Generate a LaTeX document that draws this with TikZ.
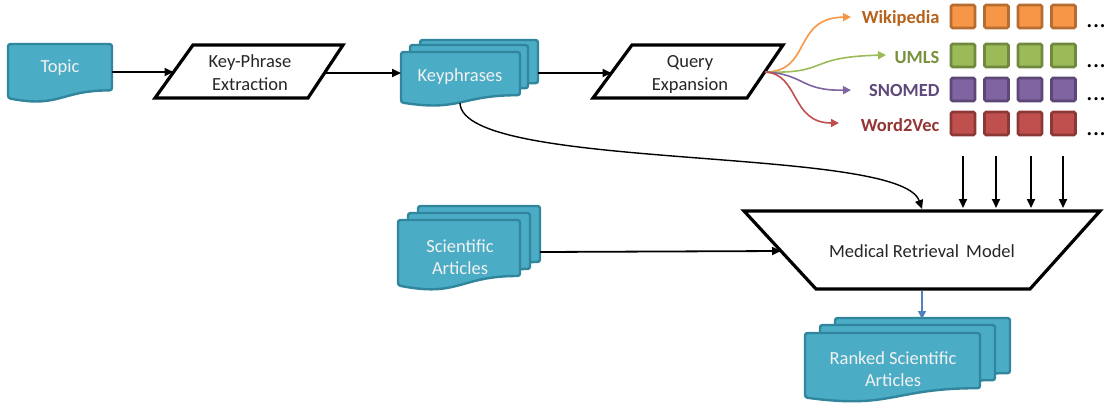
\documentclass[tikz,border=0pt]{standalone}
\usepackage{fontspec}
\setmainfont{Carlito}
\usetikzlibrary{arrows.meta}
\definecolor{docfill}{HTML}{4BACC6}
\definecolor{docline}{HTML}{31859C}
\definecolor{doctext}{HTML}{F2F2F2}
\definecolor{boxtext}{HTML}{262626}
\definecolor{orfill}{HTML}{F79646}
\definecolor{orline}{HTML}{B66D31}
\definecolor{ortext}{HTML}{B7621C}
\definecolor{grfill}{HTML}{9BBB59}
\definecolor{grline}{HTML}{71893F}
\definecolor{grtext}{HTML}{76923C}
\definecolor{pufill}{HTML}{8064A2}
\definecolor{puline}{HTML}{5C4776}
\definecolor{putext}{HTML}{5F497A}
\definecolor{refill}{HTML}{C0504D}
\definecolor{reline}{HTML}{8C3836}
\definecolor{retext}{HTML}{943634}
\definecolor{bluearrow}{HTML}{4F81BD}
\newcommand\docshp[4]{%
  \draw[docst] (#1,#2) -- (#3,#2) -- (#3,{#2+0.8*#4})
    .. controls ({(#1+#3)/2},{#2+0.8*#4}) and ({(#1+#3)/2},{#2+1.107*#4}) ..
    (#1,{#2+0.934*#4}) -- cycle;}
\tikzset{
  docst/.style={fill=docfill, draw=docline, line width=2.4pt, rounded corners=2.5pt},
  doclabel/.style={text=doctext, align=center, font=\fontsize{18.5}{22}\selectfont},
  boxlabel/.style={text=boxtext, align=center, font=\fontsize{18.5}{23}\selectfont},
  procbox/.style={draw=black, line width=3.2pt, line join=miter, fill=white},
  conn/.style={draw=black, line width=1.8pt, -{Triangle[length=9pt,width=8pt]}},
  thinconn/.style={draw=black, line width=1.4pt, -{Triangle[length=9pt,width=8pt]}},
  srcarrow/.style={line width=1.6pt, -{Triangle[length=8pt,width=8pt]}},
  srclabel/.style={anchor=east, font=\bfseries\fontsize{18.5}{22}\selectfont},
  sq/.style={line width=2.6pt, rounded corners=1.5pt},
  dotlabel/.style={anchor=base west, font=\fontsize{26}{30}\selectfont, inner sep=0pt}
}
\begin{document}
\begin{tikzpicture}[x=1pt,y=-1pt]
\useasboundingbox (0,0) rectangle (1107,407);

% Topic
\docshp{8}{44}{112}{58}
\node[doclabel] (topic) at (60,68) {Topic};
\coordinate (topicR) at (112,72);

% Key-Phrase Extraction
\draw[procbox] (193,45) -- (343,45) -- (308,98) -- (155,98) -- cycle;
\node[boxlabel] (kpe) at (250,73) {Key-Phrase\\Extraction};
\coordinate (kpeL) at (173.5,72);
\coordinate (kpeR) at (324.5,73);

% Keyphrases
\docshp{420}{40}{538}{54}
\docshp{410}{45}{528}{54}
\docshp{401}{52}{520}{54}
\node[doclabel] (kp) at (460,77) {Keyphrases};
\coordinate (kpL) at (401,73);
\coordinate (kpR) at (538,73);
\coordinate (kpB) at (460,103);

% Query Expansion
\draw[procbox] (632,45) -- (783,45) -- (747,98) -- (593,98) -- cycle;
\node[boxlabel] (qe) at (690,74) {Query\\Expansion};
\coordinate (qeL) at (611.5,73);
\coordinate (qeR) at (765,72);

% sources
\node[srclabel, text=ortext] (wiki) at (943,18) {Wikipedia};
\node[srclabel, text=grtext] (umls) at (943,57) {UMLS};
\node[srclabel, text=putext] (snomed) at (943,90) {SNOMED};
\node[srclabel, text=retext] (w2v) at (943,125) {Word2Vec};
\coordinate (wikiA) at (851,17);
\coordinate (umlsA) at (886,55);
\coordinate (snomedA) at (851,90);
\coordinate (w2vA) at (839,123);

\draw[srcarrow, orfill] (qeR) .. controls (812,72) and (792,18) .. (wikiA);
\draw[srcarrow, grfill] (qeR) .. controls (830,74) and (805,57) .. (umlsA);
\draw[srcarrow, pufill] (qeR) .. controls (805,74) and (800,91) .. (snomedA);
\draw[srcarrow, refill] (qeR) .. controls (800,74) and (790,123) .. (w2vA);

% squares
\foreach \xx in {950,983.5,1017,1050.5}{
  \draw[sq, fill=orfill, draw=orline] (\xx+1,5) rectangle (\xx+25,28);
  \draw[sq, fill=grfill, draw=grline] (\xx+1,44) rectangle (\xx+25,67);
  \draw[sq, fill=pufill, draw=puline] (\xx+1,78) rectangle (\xx+25,101);
  \draw[sq, fill=refill, draw=reline] (\xx+1,112) rectangle (\xx+25,135);
}
\node[dotlabel] (d1) at (1086,27) {...};
\node[dotlabel] (d2) at (1086,67) {...};
\node[dotlabel] (d3) at (1086,100) {...};
\node[dotlabel] (d4) at (1086,135) {...};

% Medical Retrieval Model
\draw[procbox] (744,211) -- (1100,211) -- (1030,289) -- (816,289) -- cycle;
\node[boxlabel] (mrm) at (922,251) {Medical Retrieval\hspace{3pt} Model};
\coordinate (mrmT) at (922,209);
\coordinate (mrmL) at (781,251);
\coordinate (mrmB) at (922,291);

% down arrows
\foreach \xx/\nm in {963/a,996/b,1031/c,1063/d}{
  \coordinate (top\nm) at (\xx,156);
  \coordinate (bot\nm) at (\xx,208);
  \draw[conn] (top\nm) -- (bot\nm);
}

% Scientific Articles
\docshp{418}{206}{540}{70}
\docshp{408}{213}{530}{70}
\docshp{398}{220}{520}{70}
\node[doclabel] (sa) at (460,257.5) {Scientific\\Articles};
\coordinate (saR) at (540,252);

% Ranked Scientific Articles
\docshp{835}{318}{1010}{69}
\docshp{820}{325}{995}{69}
\docshp{805}{333}{980}{69}
\node[doclabel] (rsa) at (893,369) {Ranked Scientific\\Articles};
\coordinate (rsaT) at (922,319);

% connectors
\draw[conn] (topicR) -- (kpeL);
\draw[conn] (kpeR) -- (kpL);
\draw[conn] (kpR) -- (qeL);
\draw[thinconn] (kpB) .. controls (462,172) and (900,145) .. (mrmT);
\draw[conn] (saR) -- (mrmL);
\draw[line width=1.6pt, bluearrow, -{Triangle[length=8pt,width=8pt]}] (mrmB) -- (rsaT);
\end{tikzpicture}
\end{document}
